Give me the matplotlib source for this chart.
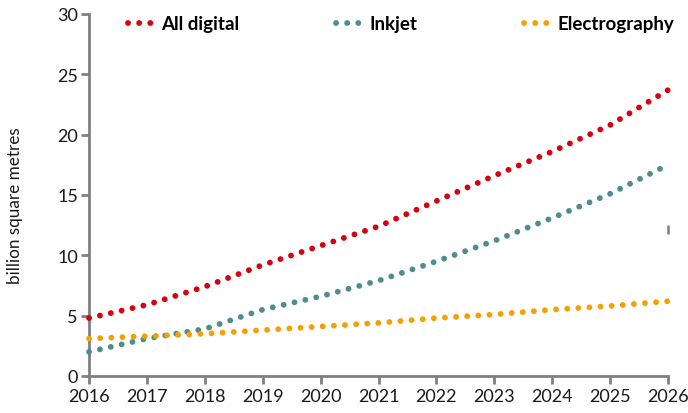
import matplotlib
matplotlib.use("Agg")
import matplotlib.pyplot as plt
from matplotlib.lines import Line2D

plt.rcParams['font.family'] = ['Lato', 'DejaVu Sans']

years = [2016, 2017, 2018, 2019, 2020, 2021, 2022, 2023, 2024, 2025, 2026]
all_digital = [4.8, 5.9, 7.4, 9.2, 10.8, 12.4, 14.5, 16.6, 18.6, 20.8, 23.7]
inkjet = [2.0, 3.1, 3.9, 5.5, 6.6, 7.9, 9.5, 11.2, 13.1, 15.1, 17.5]
electrography = [3.1, 3.3, 3.5, 3.8, 4.1, 4.4, 4.8, 5.1, 5.5, 5.8, 6.2]
series_names = ["All digital", "Inkjet", "Electrography"]
colors = ["#d7000f", "#4d8d8f", "#f5a000"]

fig = plt.figure(figsize=(6.88, 4.14), dpi=100)
ax = fig.add_axes([0.1294, 0.0894, 0.8416, 0.8744])

lw = 4.2
dot_style = (0, (0.01, 1.9))
for vals, c in zip([all_digital, inkjet, electrography], colors):
    ax.plot(years, vals, color=c, linewidth=lw, linestyle=dot_style,
            dash_capstyle='round', zorder=3, clip_on=False)

# small grey mark at the right edge seen in the original
ax.vlines([2026], 11.8, 12.5, color='#808080', linewidth=1.8, clip_on=False)

ax.set_xlim(2016, 2026)
ax.set_ylim(0, 30)
ax.set_xticks(years)
ax.set_yticks([0, 5, 10, 15, 20, 25, 30])
for s in ['top', 'right']:
    ax.spines[s].set_visible(False)
for s in ['left', 'bottom']:
    ax.spines[s].set_color('#808080')
    ax.spines[s].set_linewidth(2)
ax.tick_params(axis='both', colors='#808080', width=2, length=6, labelsize=13,
               labelcolor='#1a1a1a')
ax.tick_params(axis='y', pad=2)
ax.tick_params(axis='x', pad=3)
ax.set_ylabel("billion square metres", fontsize=12.3, color='#1a1a1a')
ax.yaxis.set_label_coords(-0.114, 0.472)

# legend entries placed individually along the top
anchors = [0.186, 0.489, 0.762]
for name, c, xa in zip(series_names, colors, anchors):
    h = Line2D([0], [0], color=c, linewidth=lw, linestyle=dot_style,
               dash_capstyle='round')
    fig.legend([h], [name], loc='center left', frameon=False,
               bbox_to_anchor=(xa, 0.94), handlelength=1.3, handletextpad=0.45,
               borderaxespad=0, borderpad=0,
               prop={'weight': 'bold', 'size': 13.5})

fig.savefig("out.png", dpi=100)
